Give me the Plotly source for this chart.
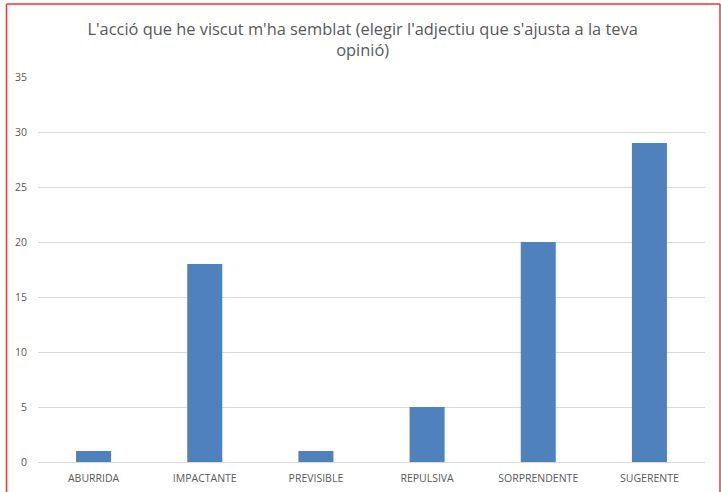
import plotly.graph_objects as go

categories = ["ABURRIDA", "IMPACTANTE", "PREVISIBLE", "REPULSIVA", "SORPRENDENTE", "SUGERENTE"]
values = [1, 18, 1, 5, 20, 29]
y_ticks = [0, 5, 10, 15, 20, 25, 30, 35]
title_text = "L'acció que he viscut m'ha semblat (elegir l'adjectiu que s'ajusta a la teva<br>opinió)"

W, H = 721, 492
L, R, T, B = 38, 16, 77, 30
pw = W - L - R
ph = H - T - B

def px_x(p):
    return (p - L) / pw

def px_y(p):
    return (H - B - p) / ph

fig = go.Figure(go.Bar(
    x=categories, y=values,
    marker=dict(color="#4F81BD", line=dict(width=0)),
))

fig.update_layout(
    width=W, height=H,
    margin=dict(l=L, r=R, t=T, b=B, autoexpand=False),
    paper_bgcolor="white", plot_bgcolor="white",
    bargap=0.685,
    showlegend=False,
    font=dict(family="Open Sans, sans-serif", color="#595959"),
    title=dict(
        text=title_text, xref="container", x=0.503, xanchor="center",
        yref="container", y=1 - 35 / H, yanchor="middle",
        font=dict(size=16.4, color="#595959", family="Open Sans, sans-serif"),
    ),
    xaxis=dict(
        automargin=False,
        showgrid=False, showline=True, linecolor="#D9D9D9", linewidth=1,
        ticks="", tickfont=dict(size=10.5, color="#595959"),
        ticklabelstandoff=6,
    ),
    yaxis=dict(
        automargin=False,
        range=[0, 35], tickvals=y_ticks, showgrid=True, gridcolor="#D9D9D9",
        gridwidth=1, zeroline=False, showline=False, ticks="",
        tickfont=dict(size=10.5, color="#595959"), ticklabelstandoff=10,
    ),
    shapes=[
        dict(type="line", xref="paper", yref="paper",
             x0=px_x(6.5), x1=px_x(6.5), y0=px_y(4), y1=px_y(500),
             line=dict(color="#FF3030", width=1.5)),
        dict(type="line", xref="paper", yref="paper",
             x0=px_x(6.5), x1=px_x(720), y0=px_y(4), y1=px_y(4),
             line=dict(color="#FF3030", width=1.5)),
        dict(type="line", xref="paper", yref="paper",
             x0=px_x(720), x1=px_x(720), y0=px_y(4), y1=px_y(500),
             line=dict(color="#FF3030", width=1.5)),
    ],
)

fig.write_html(
    "out.html",
    config={"displayModeBar": False},
    post_script="document.body.style.margin='0px';document.body.style.overflow='hidden';",
)
